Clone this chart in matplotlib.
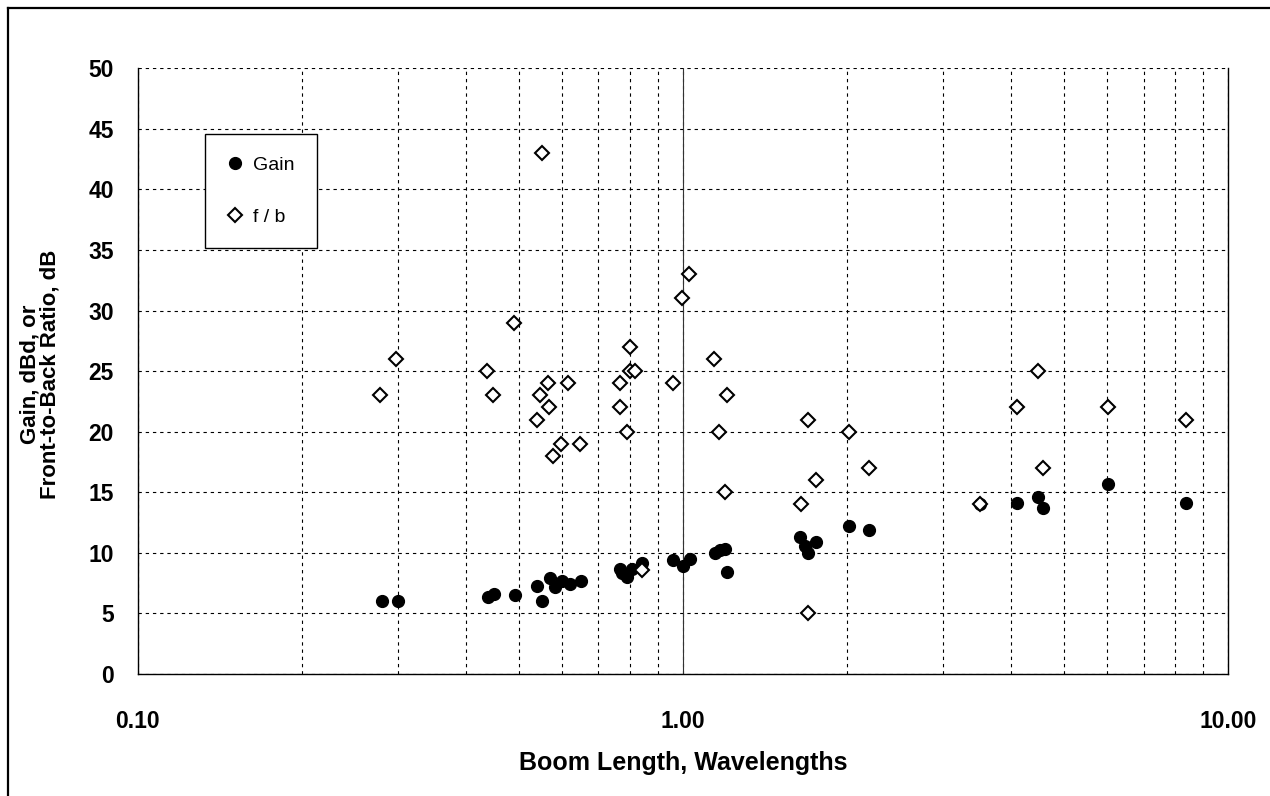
import numpy as np
import matplotlib
matplotlib.use('Agg')
import matplotlib.pyplot as plt
from matplotlib.ticker import FixedLocator, NullFormatter
from matplotlib.lines import Line2D

plt.rcParams['font.family'] = ['Liberation Sans', 'DejaVu Sans']

# boom length (wavelengths) and gain (dBd)
gain_x = [0.281, 0.300, 0.439, 0.451, 0.492, 0.540, 0.552, 0.571, 0.582, 0.600,
          0.622, 0.651, 0.768, 0.773, 0.790, 0.807, 0.842, 0.961, 1.003, 1.031,
          1.147, 1.171, 1.196, 1.208, 1.642, 1.677, 1.696, 1.757, 2.015, 2.198,
          3.505, 4.107, 4.487, 4.588, 6.016, 8.39]
gain_y = [6.0, 6.0, 6.35, 6.6, 6.5, 7.3, 6.0, 7.9, 7.2, 7.65,
          7.45, 7.7, 8.7, 8.3, 8.0, 8.7, 9.2, 9.4, 8.9, 9.5,
          10.0, 10.25, 10.3, 8.4, 11.3, 10.6, 10.0, 10.9, 12.2, 11.9,
          14.0, 14.1, 14.6, 13.7, 15.7, 14.1]

# boom length and front-to-back ratio (dB)
fb_x = [0.279, 0.298, 0.438, 0.448, 0.490, 0.540, 0.548, 0.553, 0.567, 0.568,
        0.579, 0.599, 0.617, 0.648, 0.768, 0.768, 0.791, 0.799, 0.799, 0.818,
        0.842, 0.958, 0.995, 1.025, 1.143, 1.163, 1.194, 1.204, 1.649, 1.694,
        1.696, 1.757, 2.015, 2.192, 3.505, 4.107, 4.487, 4.588, 6.016, 8.39]
fb_y = [23, 26, 25, 23, 29, 21, 23, 43, 24, 22,
        18, 19, 24, 19, 24, 22, 20, 27, 25, 25,
        8.6, 24, 31, 33, 26, 20, 15, 23, 14, 5,
        21, 16, 20, 17, 14, 22, 25, 17, 22, 21]

fig = plt.figure(figsize=(12.7, 7.96), dpi=100)
ax = fig.add_axes([0.1083, 0.1533, 0.9669 - 0.1083, 0.9142 - 0.1533])

ax.plot(gain_x, gain_y, 'o', color='black', ms=8.5, label='Gain', zorder=3)
ax.plot(fb_x, fb_y, 'D', mfc='white', mec='black', mew=1.5, ms=7,
        label='f / b', zorder=4)

ax.set_xscale('log')
ax.set_xlim(0.1, 10)
ax.set_ylim(0, 50)
ax.set_yticks(np.arange(0, 51, 5))
ax.xaxis.set_major_locator(FixedLocator([0.1, 1, 10]))
ax.set_xticklabels(['0.10', '1.00', '10.00'])
minors = [m * d for d in (0.1, 1) for m in range(2, 10)]
ax.xaxis.set_minor_locator(FixedLocator(minors))
ax.xaxis.set_minor_formatter(NullFormatter())

dash = (0, (3, 3.5))
ax.grid(True, which='major', axis='y', color='black', lw=0.8, ls=dash)
ax.grid(True, which='both', axis='x', color='black', lw=0.8, ls=dash)
ax.axvline(1, color='#333333', lw=0.8, zorder=2)

ax.tick_params(which='both', length=0)
ax.tick_params(axis='y', pad=17, labelsize=16.5)
ax.tick_params(axis='x', pad=26, labelsize=16.5)
for lab in ax.get_xticklabels() + ax.get_yticklabels():
    lab.set_fontweight('bold')

ax.spines['top'].set_visible(False)
for s in ('left', 'bottom', 'right'):
    ax.spines[s].set_linewidth(1.0)

ax.set_xlabel('Boom Length, Wavelengths', fontsize=18, fontweight='bold', va='center')
ax.xaxis.set_label_coords(0.5, -0.147)
ax.set_ylabel('Gain, dBd, or\nFront-to-Back Ratio, dB', fontsize=16,
              fontweight='bold', va='center', ha='center', linespacing=0.95)
ax.yaxis.set_label_coords(-0.0895, 0.495)

leg = ax.legend(loc='upper left', bbox_to_anchor=(205 / 1270, 1 - 134 / 796),
                bbox_transform=fig.transFigure, borderaxespad=0, fontsize=14,
                frameon=True, fancybox=False, framealpha=1, edgecolor='black',
                borderpad=1.15, labelspacing=1.75, handlelength=0.75,
                handletextpad=0.55)
leg.get_frame().set_linewidth(1.0)
leg.set_zorder(5)

# outer border of the page
fig.add_artist(Line2D([8 / 1270, 8 / 1270], [0, 1 - 8 / 796], color='black', lw=1.6,
                      transform=fig.transFigure))
fig.add_artist(Line2D([8 / 1270, 1], [1 - 8 / 796, 1 - 8 / 796], color='black', lw=1.6,
                      transform=fig.transFigure))

fig.savefig('out.png', dpi=100)
